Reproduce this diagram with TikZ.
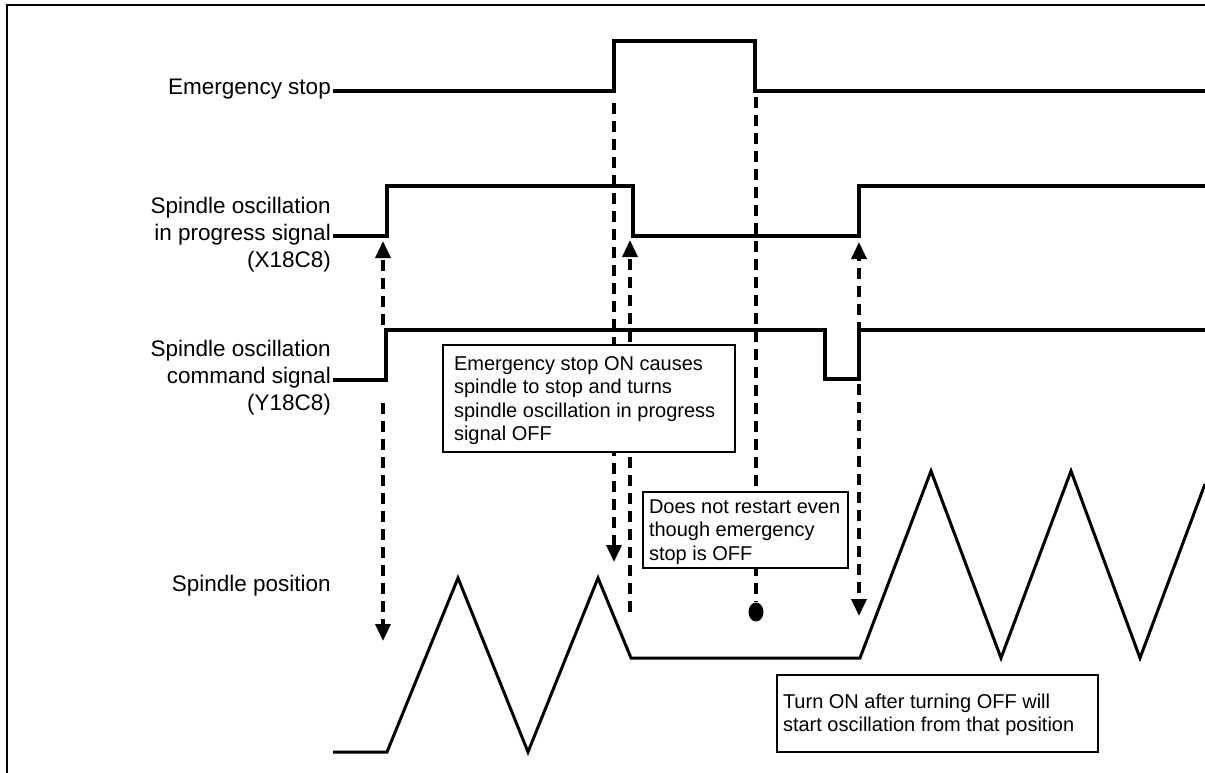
\documentclass[tikz,border=0pt]{standalone}
\usepackage{fontspec}
\setmainfont{Liberation Sans}
\usetikzlibrary{arrows.meta,shapes.geometric}
\newcommand{\nbx}[5]{\parbox[c][#2][t]{#1}{\raggedright\leftskip=#3\relax\vspace*{#4}#5}}
\begin{document}
\begin{tikzpicture}[x=1pt,y=-1pt,
  sig/.style={line width=4pt, line join=miter},
  wave/.style={line width=3pt, line join=miter},
  dsh/.style={line width=3.5pt, dash pattern=on 11pt off 7pt},
  arr/.style={dsh, -{Triangle[length=17pt,width=15pt]}},
  lbl/.style={font=\fontsize{22.5}{27}\selectfont, inner sep=0pt, align=right},
  note/.style={draw, line width=2pt, fill=white, font=\fontsize{20}{23.5}\selectfont,
               anchor=north west, inner sep=0pt},
  dotmark/.style={ellipse, fill=black, inner sep=0pt, minimum width=15pt, minimum height=19pt}
]
\useasboundingbox (0,0) rectangle (1205,773);
% frame
\coordinate (fbl) at (7,773);
\coordinate (ftl) at (7,5);
\coordinate (ftr) at (1205,5);
\draw[line width=2.5pt] (fbl) -- (ftl) -- (ftr);

% labels
\node[lbl, anchor=base east] (lES) at (331,95) {Emergency stop};
\node[lbl, anchor=north east] (lIP) at (331,197) {Spindle oscillation\\in progress signal\\(X18C8)};
\node[lbl, anchor=north east] (lCS) at (331,340) {Spindle oscillation\\command signal\\(Y18C8)};
\node[lbl, anchor=base east] (lSP) at (331,591) {Spindle position};

% key coordinates for the dashed connectors
\coordinate (a1up0) at (383,325);
\coordinate (a1up1) at (383,241);
\coordinate (a1dn0) at (383,403);
\coordinate (a1dn1) at (383,641);
\coordinate (a2dn0) at (614,103);
\coordinate (a2dn1) at (614,562);
\coordinate (a3up0) at (630,612);
\coordinate (a3up1) at (630,240);
\coordinate (a4top) at (756,97);
\coordinate (a5up0) at (859,333);
\coordinate (a5up1) at (859,242);
\coordinate (a5dn0) at (859,384);
\coordinate (a5dn1) at (859,616);
\node[dotmark] (dot) at (756,612) {};

% dashed connectors
\draw[arr] (a1up0) -- (a1up1);
\draw[arr] (a1dn0) -- (a1dn1);
\draw[arr] (a2dn0) -- (a2dn1);
\draw[arr] (a3up0) -- (a3up1);
\draw[dsh] (a4top) -- (dot.north);
\draw[arr] (a5up0) -- (a5up1);
\draw[arr] (a5dn0) -- (a5dn1);

% signals
\draw[sig] (333,91) -| (614,41) -| (755,91) -- (1205,91);
\draw[sig] (333,236) -| (387,186) -| (633,236) -| (859,186) -- (1205,186);
\draw[sig] (333,380) -| (386,330) -| (825,379) -| (859,330) -- (1205,330);

% spindle position
\draw[wave] (333,752) -- (387,752) -- (458,578) -- (528,752) -- (598,578) -- (631,658)
  -- (860,658) -- (931,471) -- (1001,658) -- (1071,471) -- (1140,658) -- (1205,484);

% notes
\node[note] (n1) at (442,344)
  {\nbx{292pt}{107pt}{11pt}{11.5pt}{Emergency stop ON causes\\spindle to stop and turns\\spindle oscillation in progress\\signal OFF}};
\node[note] (n2) at (642,491)
  {\nbx{205pt}{76pt}{6pt}{7.5pt}{Does not restart even\\though emergency\\stop is OFF}};
\node[note] (n3) at (776,674)
  {\nbx{321pt}{77pt}{6pt}{19pt}{Turn ON after turning OFF will\\start oscillation from that position}};
\end{tikzpicture}
\end{document}
